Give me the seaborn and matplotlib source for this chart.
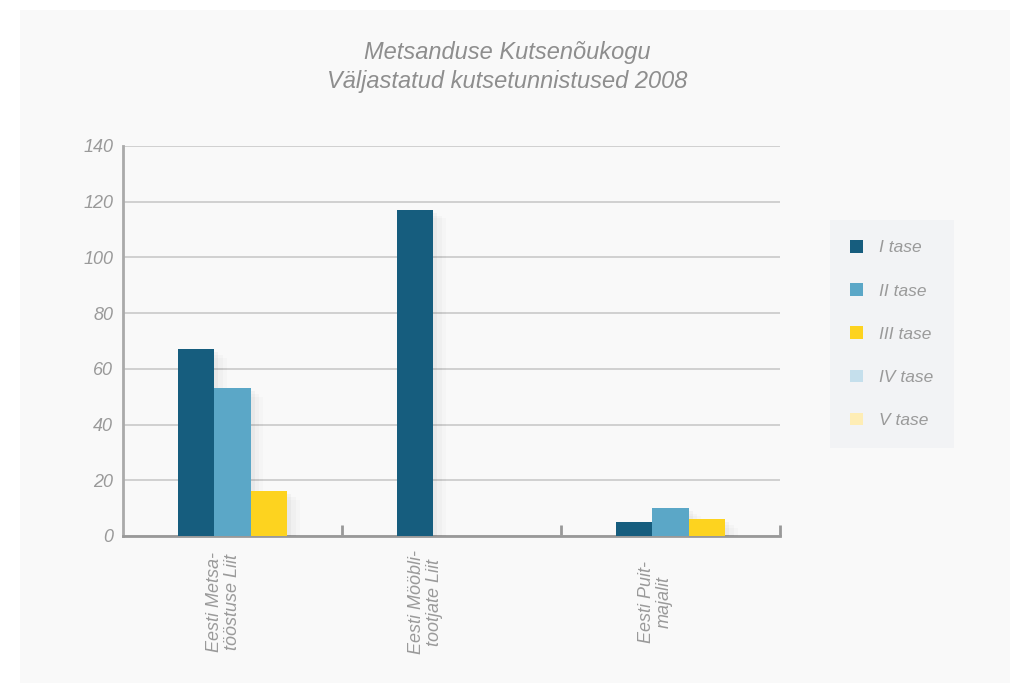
#!/usr/bin/env python3
import pandas as pd
import numpy as np
import matplotlib
matplotlib.use("Agg")
import matplotlib.pyplot as plt
import matplotlib.patheffects as pe
from matplotlib.patches import Patch, Rectangle
import seaborn as sns

# data
groups = ["Eesti Metsa-\ntööstuse Liit", "Eesti Mööbli-\ntootjate Liit", "Eesti Puit-\nmajalit"]
levels = ["I tase", "II tase", "III tase", "IV tase", "V tase"]
level_i = [67, 117, 5]
level_ii = [53, 0, 10]
level_iii = [16, 0, 6]

colors = ["#165d7e", "#5ba7c7", "#fdd31f", "#c5dfec", "#feedb5"]


def main():
    sns.set_theme(style="white")
    plt.rcParams["font.family"] = ["Liberation Sans", "DejaVu Sans"]

    df = pd.DataFrame({
        "group": groups * 3,
        "level": [levels[0]] * 3 + [levels[1]] * 3 + [levels[2]] * 3,
        "value": level_i + level_ii + level_iii,
    })

    fig = plt.figure(figsize=(10.24, 6.84), dpi=100)
    fig.patch.set_facecolor("white")
    # light grey panel behind everything
    fig.patches.append(Rectangle((20 / 1024, 1 - 683 / 684), 990 / 1024, 673 / 684,
                                 transform=fig.transFigure, facecolor="#f9f9f9",
                                 edgecolor="none", zorder=-10))

    ax = fig.add_axes([123 / 1024, 1 - 536 / 684, 657 / 1024, 390 / 684])
    ax.set_facecolor("none")

    sns.barplot(data=df, x="group", y="value", hue="level",
                hue_order=levels[:3], palette=colors[:3],
                width=0.5, saturation=1, ax=ax, legend=False, zorder=3)

    # soft-ish drop shadow
    shadow = [pe.SimplePatchShadow(offset=(3, -2), shadow_rgbFace="#000000", alpha=0.03),
              pe.SimplePatchShadow(offset=(6, -4), shadow_rgbFace="#000000", alpha=0.02),
              pe.SimplePatchShadow(offset=(9, -6), shadow_rgbFace="#000000", alpha=0.015),
              pe.Normal()]
    for bar in ax.patches:
        bar.set_edgecolor("none")
        if bar.get_height() > 0:
            bar.set_path_effects(shadow)

    txt_col = "#9a9a9a"
    ax.set_ylim(0, 140)
    ax.set_xlim(-0.5, 2.5)
    ax.set_yticks(np.arange(0, 141, 20))
    ax.set_yticklabels([str(v) for v in range(0, 141, 20)],
                       fontsize=13, color=txt_col, fontstyle="italic")
    ax.tick_params(axis="y", length=0, pad=7)
    ax.yaxis.grid(True, color="#c9c9c9", linewidth=1.2, zorder=0)
    ax.set_axisbelow(True)

    # separators between the groups
    ax.set_xticks([0, 1, 2])
    ax.set_xticklabels([])
    ax.set_xticks([0.5, 1.5, 2.5], minor=True)
    ax.tick_params(axis="x", which="major", length=0)
    ax.tick_params(axis="x", which="minor", bottom=True, direction="in",
                   length=8, width=2, color="#999999")

    offs = [-0.04, -0.12, -0.07]
    for i, g in enumerate(groups):
        ax.text(i + offs[i], -0.17, g, transform=ax.get_xaxis_transform(),
                rotation=90, ha="center", va="center", multialignment="center",
                fontsize=13, color=txt_col, fontstyle="italic", linespacing=1.05)

    for s in ["top", "right"]:
        ax.spines[s].set_visible(False)
    ax.spines["left"].set_color("#aaaaaa")
    ax.spines["left"].set_linewidth(2)
    ax.spines["bottom"].set_color("#999999")
    ax.spines["bottom"].set_linewidth(2)
    ax.set_xlabel("")
    ax.set_ylabel("")

    fig.text(507 / 1024, 1 - 67 / 684,
             "Metsanduse Kutsenõukogu\nVäljastatud kutsetunnistused 2008",
             ha="center", va="center", fontsize=17, color="#8e8e8e",
             fontstyle="italic", linespacing=1.3)

    handles = [Patch(facecolor=c, edgecolor="none") for c in colors]
    leg = fig.legend(handles, levels, loc="upper left",
                     bbox_to_anchor=(830 / 1024, 1 - 220 / 684),
                     frameon=True, fancybox=False, facecolor="#f2f3f5",
                     edgecolor="none", framealpha=1,
                     handlelength=0.75, handleheight=0.75, handletextpad=0.95,
                     labelspacing=1.6, borderpad=1.15, borderaxespad=0,
                     prop={"size": 12.5, "style": "italic"})
    for t in leg.get_texts():
        t.set_color(txt_col)

    fig.savefig("out.png", dpi=100, facecolor=fig.get_facecolor())


if __name__ == "__main__":
    main()
